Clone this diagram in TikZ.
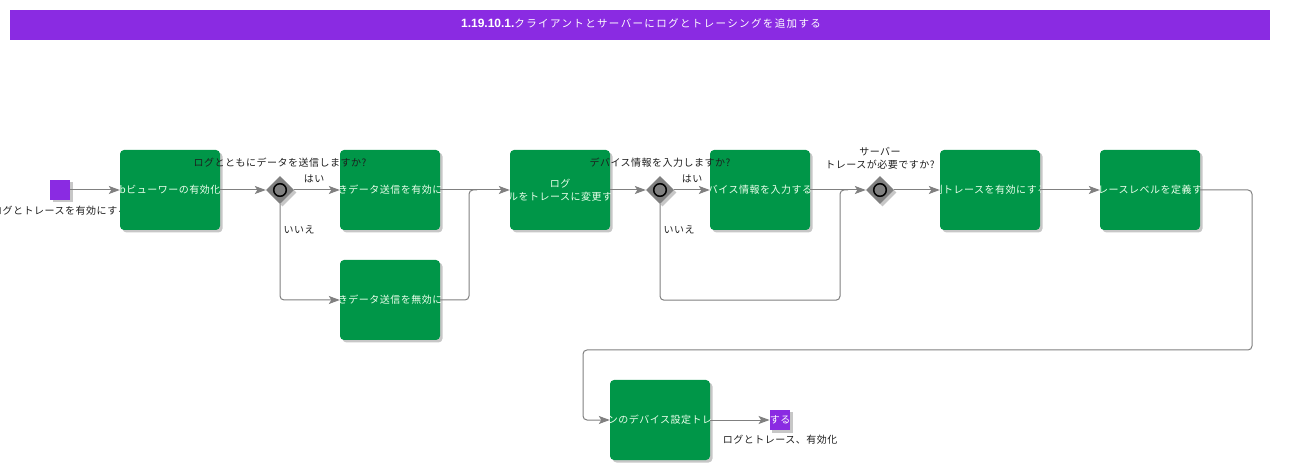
\documentclass[tikz,border=0pt]{standalone}
\usepackage{fontspec}
\usetikzlibrary{shapes.geometric,shadows,arrows.meta}
\newfontfamily\jpf{Noto Sans CJK JP}[LetterSpace=5]
\newfontfamily\jpt{Noto Sans CJK JP}[LetterSpace=13]
\newfontfamily\lsb{Liberation Sans}
\definecolor{tgreen}{RGB}{0,150,72}
\definecolor{bpurple}{RGB}{138,43,226}
\definecolor{lgray}{RGB}{128,128,128}
\definecolor{lblack}{RGB}{30,30,30}
\newcommand\lblfont{\jpf\fontsize{10}{13}\selectfont}
\begin{document}
\begin{tikzpicture}[x=1pt,y=-1pt,
  shd/.style={drop shadow={shadow xshift=2.5pt,shadow yshift=-2.5pt,fill=black,opacity=0.22}},
  task/.style={fill=tgreen, rounded corners=4pt, minimum width=100pt, minimum height=80pt, inner sep=0pt, shd,
    path picture={\node[font=\lblfont, text=white!92!green, align=center] at (path picture bounding box.center) {#1};}},
  ev/.style={fill=bpurple, minimum size=20pt, inner sep=0pt, shd},
  gw/.style={diamond, aspect=1, fill=lgray, minimum size=28pt, inner sep=0pt, shd,
    path picture={\draw[line width=1.5pt, fill=lgray] (path picture bounding box.center) circle (6.3pt);}},
  lbl/.style={font=\lblfont, text=lblack, inner sep=0pt, align=center},
  line/.style={draw=lgray, line width=1pt, rounded corners=4pt},
  flow/.style={line, -{Stealth[length=11pt,width=8pt,inset=2.5pt]}}
]
\useasboundingbox (0,0) rectangle (1302,470);
% title
\node[fill=bpurple, minimum width=1260pt, minimum height=30pt, inner sep=0pt] (title) at (640,25) {};
\node[text=white, inner sep=0pt] (titletext) at (641,24) {{\lsb\bfseries\fontsize{12}{13}\selectfont 1.19.10.1.}{\jpt\fontsize{10.5}{13}\selectfont クライアントとサーバーにログとトレーシングを追加する}};

% start label (behind box)
\node[lbl] (slbl) at (60,211) {ログとトレースを有効にする};
\node[ev] (s) at (60,190) {};

\node[task={bビューワーの有効化}] (b1) at (170,190) {};
\node[gw] (g1) at (280,190) {};
\node[task={きデータ送信を有効に}] (b2) at (390,190) {};
\node[task={きデータ送信を無効に}] (b3) at (390,300) {};
\node[task={ログ\\ルをトレースに変更す}] (b4) at (560,190) {};
\node[gw] (g2) at (660,190) {};
\node[task={バイス情報を入力する}] (b5) at (760,190) {};
\node[gw] (g3) at (880,190) {};
\node[task={側トレースを有効にする}] (b6) at (990,190) {};
\node[task={トレースレベルを定義する}] (b7) at (1150,190) {};
\node[task={ンのデバイス設定トレ}] (b8) at (660,420) {};
\node[ev, text=white, font=\lblfont] (e) at (780,420) {する};
\node[lbl] (elbl) at (780,440) {ログとトレース、有効化};

\coordinate (m1) at (469,190);
\coordinate (m2) at (840,190);
\coordinate (c3) at (1252,350);
\coordinate (c4) at (583,420);

% connectors
\draw[flow] (s) -- (b1);
\draw[flow] (b1) -- (g1);
\draw[flow] (g1) -- (b2);
\draw[flow] (g1.south) |- (b3.west);
\draw[flow] (b2) -- (b4);
\draw[line] (b3.east) -| (m1) -- ++(8,0);
\draw[flow] (b4) -- (g2);
\draw[flow] (g2) -- (b5);
\draw[line] (g2.south) -- ++(0,96) -| (m2) -- ++(8,0);
\draw[flow] (b5) -- (g3);
\draw[flow] (g3) -- (b6);
\draw[flow] (b6) -- (b7);
\draw[flow] (b7.east) -| (c3) -| (c4) -- (b8.west);
\draw[flow] (b8) -- (e);

% labels
\node[lbl] (q1) at (280,163) {ログとともにデータを送信しますか?};
\node[lbl] (y1) at (314,179) {はい};
\node[lbl] (n1) at (299,230) {いいえ};
\node[lbl] (q2) at (660,163) {デバイス情報を入力しますか?};
\node[lbl] (y2) at (692,179) {はい};
\node[lbl] (n2) at (679,230) {いいえ};
\node[lbl] (q3) at (880,158) {サーバー\\トレースが必要ですか?};
\end{tikzpicture}
\end{document}
